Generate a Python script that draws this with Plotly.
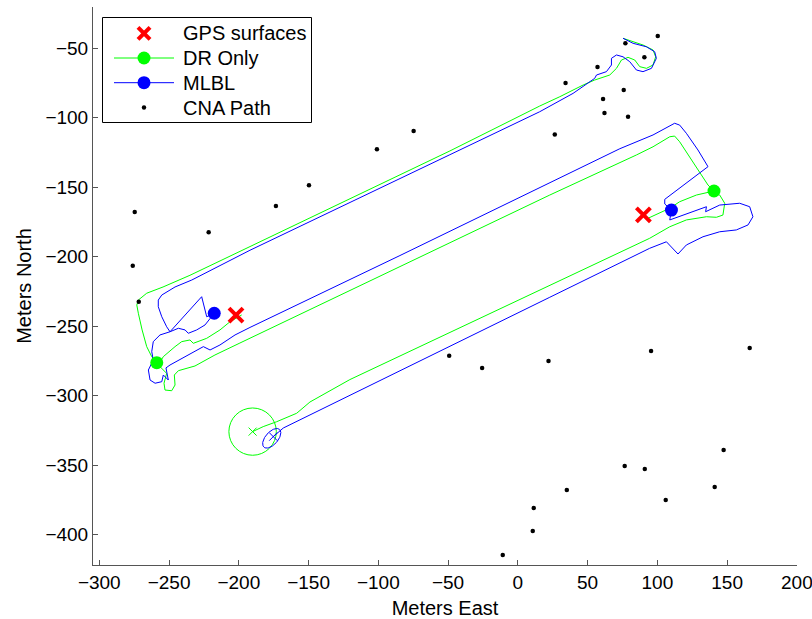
import numpy as np
import plotly.graph_objects as go

# ---------------- data (meters) ----------------
# DR Only (green) track, three dive segments
dr1_x = [75.4, 89.7, 96.9, 98.8, 96.9, 92.2, 87.4, 83.8, 79.0, 74.3, 70.7, 65.9, 55.1, 46.8, 30.1, 15.7,
         -48.7, -120.4, -192.0, -235.0, -254.3, -266.0, -272.0, -273.1, -272.0, -269.3, -266.0, -262.4, -258.8]
dr1_y = [-43.0, -47.8, -51.4, -56.3, -62.2, -64.6, -63.4, -58.6, -56.7, -58.6, -64.6, -69.4, -73.0, -76.6, -85.0, -91.7,
         -124.0, -158.3, -192.8, -213.4, -221.8, -226.3, -231.2, -234.8, -240.7, -252.7, -264.7, -271.9, -276.2]

dr2_x = [-197.9, -206.3, -213.5, -223.0, -232.6, -235.0, -240.9, -245.7, -254.1, -257.0, -256.5, -251.7, -253.6,
         -252.9, -248.1, -245.7, -246.2, -243.3, -231.4, -217.1, -199.2, -84.5, 22.9, 85.0, 96.9, 108.9, 112.4,
         116.0, 123.2, 130.4, 136.3, 140.6]
dr2_y = [-241.9, -246.8, -252.7, -258.7, -262.3, -259.9, -261.1, -264.7, -271.9, -276.7, -279.1, -283.9, -291.0,
         -295.9, -296.4, -292.3, -285.1, -282.0, -278.6, -270.7, -262.1, -207.2, -155.7, -126.9, -121.0, -113.8, -113.3,
         -117.4, -128.1, -138.9, -148.5, -152.8]

dr3_x = [93.3, 101.7, 108.9, 116.0, 128.0, 140.6, 144.7, 148.3, 147.0, 142.3, 135.2, 120.8, 108.9, 94.5,
         22.9, -48.7, -120.4, -149.0, -158.5, -172.9, -182.5, -190.1]
dr3_y = [-172.4, -168.6, -165.2, -160.5, -155.7, -152.8, -155.7, -161.6, -170.1, -171.7, -171.3, -173.6, -178.5, -186.8,
         -220.7, -254.5, -288.4, -304.5, -312.6, -318.7, -322.2, -325.8]

# MLBL (blue) track, three dive segments
ml1_x = [75.4, 82.6, 92.2, 98.1, 99.3, 95.8, 89.7, 85.0, 80.2, 75.4, 70.7, 67.1, 67.1, 63.5, 56.4, 55.1, 39.6, 15.7,
         -48.7, -120.4, -192.0, -233.7, -245.7, -255.2, -257.7, -257.7, -255.2, -251.7, -249.3, -226.6, -223.0, -217.6]
ml1_y = [-43.0, -46.6, -49.1, -52.7, -57.4, -64.6, -67.0, -65.8, -59.8, -56.3, -55.0, -57.4, -62.2, -67.0, -69.4, -71.8,
         -82.6, -95.8, -126.7, -161.1, -195.4, -216.8, -221.8, -227.6, -231.2, -236.0, -243.2, -250.4, -254.0, -228.8,
         -243.2, -240.7]

ml2_x = [-217.6, -220.6, -224.2, -230.2, -236.2, -238.5, -243.3, -249.3, -256.5, -261.3, -262.4, -261.3, -264.8,
         -263.6, -260.0, -255.2, -254.1, -250.5, -252.2, -249.3, -240.9, -232.6, -225.4, -220.6, -213.5, -202.7,
         -192.0, -84.5, 22.9, 73.1, 96.9, 112.4, 116.0, 120.8, 129.1, 136.3, 105.3, 105.3, 110.1]
ml2_y = [-240.7, -244.3, -249.1, -252.7, -255.1, -252.7, -251.5, -254.0, -256.3, -261.1, -268.3, -274.3, -281.5,
         -288.7, -291.0, -289.9, -285.1, -288.7, -280.0, -277.9, -273.1, -268.3, -264.7, -267.1, -263.5, -256.3,
         -250.9, -199.2, -146.6, -122.4, -112.5, -104.1, -105.4, -111.3, -123.3, -135.3, -158.8, -162.1, -166.5]

ml3_x = [110.1, 108.9, 135.2, 134.6, 144.7, 159.0, 166.2, 168.5, 165.0, 156.6, 144.7, 132.7, 120.8, 114.8, 106.5,
         94.5, 22.9, -48.7, -120.4, -156.2, -168.1, -175.3]
ml3_y = [-166.5, -173.6, -164.1, -167.7, -162.9, -161.6, -164.1, -171.3, -177.2, -180.8, -182.1, -185.7, -191.6,
         -198.1, -189.3, -194.0, -229.2, -264.5, -299.7, -317.3, -323.2, -329.4]

# surfacing positions
gps_x = [-202.0, 90.0]
gps_y = [-242.0, -170.0]
dr_pts_x = [-258.8, 140.6]
dr_pts_y = [-276.2, -152.8]
ml_pts_x = [-217.6, 110.1]
ml_pts_y = [-240.7, -166.5]

# final position estimates and their uncertainty
dr_end = (-190.1, -325.8)
dr_end_radius = 17.0
ml_end = (-175.3, -329.4)
ml_ellipse = dict(cx=-176.4, cy=-330.6, a=8.5, b=4.5, angle_deg=49.0)

# CNA (surface vehicle) path fixes
cna_x = [100.3, 77.1, 90.7, 57.1, 34.2, 75.9, 61.1, 62.1, 79.0, 26.5, -74.7, -101.0, -149.7, -173.4, -274.6,
         -221.6, -276.0, -271.7, -49.2, -25.6, 22.0, 95.5, 166.2, 147.5, 76.6, 91.0, 141.1, 35.1, 11.4, 106.0,
         10.7, -10.8]
cna_y = [-41.4, -46.6, -56.7, -63.7, -75.2, -80.2, -86.7, -96.7, -99.4, -112.2, -109.7, -122.8, -148.7, -163.6,
         -167.9, -182.5, -206.5, -232.4, -271.2, -280.1, -275.0, -267.8, -265.7, -339.0, -350.5, -352.7, -365.6,
         -367.8, -380.7, -374.9, -397.2, -414.5]

x_ticks = [-300, -250, -200, -150, -100, -50, 0, 50, 100, 150, 200]
y_ticks = [-400, -350, -300, -250, -200, -150, -100, -50]

legend_names = ["GPS surfaces", "DR Only", "MLBL", "CNA Path"]

GREEN = "#00FF00"
BLUE = "#0000FF"
RED = "#FF0000"
FONT = "Liberation Sans, Arial, Helvetica, sans-serif"

# plot-area geometry in pixels (for the hand-built, MATLAB-style legend)
W, H = 812, 619
L, R, T, B = 93, 15, 7, 54
PW, PH = W - L - R, H - T - B


def px(xp):
    return (xp - L) / PW


def py(yp):
    return 1 - (yp - T) / PH


def join(*segs):
    xs, ys = [], []
    for sx, sy in segs:
        if xs:
            xs.append(None)
            ys.append(None)
        xs += list(sx)
        ys += list(sy)
    return xs, ys


fig = go.Figure()

gx, gy = join((dr1_x, dr1_y), (dr2_x, dr2_y), (dr3_x, dr3_y))
bx, by = join((ml1_x, ml1_y), (ml2_x, ml2_y), (ml3_x, ml3_y))

fig.add_trace(go.Scatter(x=gx, y=gy, mode="lines", line=dict(color=GREEN, width=1),
                         name="DR Only", showlegend=False, hoverinfo="skip"))
fig.add_trace(go.Scatter(x=bx, y=by, mode="lines", line=dict(color=BLUE, width=1),
                         name="MLBL", showlegend=False, hoverinfo="skip"))

# uncertainty circle / ellipse at the final estimates
t = np.linspace(0, 2 * np.pi, 121)
th = np.deg2rad(ml_ellipse["angle_deg"])
ex = ml_ellipse["cx"] + ml_ellipse["a"] * np.cos(t) * np.cos(th) - ml_ellipse["b"] * np.sin(t) * np.sin(th)
ey = ml_ellipse["cy"] + ml_ellipse["a"] * np.cos(t) * np.sin(th) + ml_ellipse["b"] * np.sin(t) * np.cos(th)
fig.add_trace(go.Scatter(x=ex, y=ey, mode="lines", line=dict(color=BLUE, width=1),
                         showlegend=False, hoverinfo="skip"))
fig.add_shape(type="circle", xref="x", yref="y",
              x0=dr_end[0] - dr_end_radius, x1=dr_end[0] + dr_end_radius,
              y0=dr_end[1] - dr_end_radius, y1=dr_end[1] + dr_end_radius,
              line=dict(color=GREEN, width=1), layer="below")
fig.add_trace(go.Scatter(x=[dr_end[0]], y=[dr_end[1]], mode="markers",
                         marker=dict(symbol="x-thin", size=8, line=dict(color=GREEN, width=1)),
                         showlegend=False, hoverinfo="skip"))
fig.add_trace(go.Scatter(x=[ml_end[0]], y=[ml_end[1]], mode="markers",
                         marker=dict(symbol="x-thin", size=8, line=dict(color=BLUE, width=1)),
                         showlegend=False, hoverinfo="skip"))

# CNA path
fig.add_trace(go.Scatter(x=cna_x, y=cna_y, mode="markers", name="CNA Path",
                         marker=dict(color="black", size=4.5), showlegend=False))

# surfacing markers
fig.add_trace(go.Scatter(x=dr_pts_x, y=dr_pts_y, mode="markers", showlegend=False, name="DR Only",
                         marker=dict(color=GREEN, size=13)))
fig.add_trace(go.Scatter(x=ml_pts_x, y=ml_pts_y, mode="markers", showlegend=False, name="MLBL",
                         marker=dict(color=BLUE, size=13)))
fig.add_trace(go.Scatter(x=gps_x, y=gps_y, mode="markers", showlegend=False, name="GPS surfaces",
                         marker=dict(symbol="x-thin", size=14, line=dict(color=RED, width=4))))

# ---------------- MATLAB-style legend box ----------------
shapes = []
box = dict(x0=102.5, x1=311.5, y0=17.5, y1=122.5)
shapes.append(dict(type="rect", xref="paper", yref="paper", x0=px(box["x0"]), x1=px(box["x1"]),
                   y0=py(box["y1"]), y1=py(box["y0"]), line=dict(color="black", width=1),
                   fillcolor="white", layer="above"))
rows = [33.3, 58.0, 82.7, 107.5]
mx = 144.0
# red X
for s in (1, -1):
    shapes.append(dict(type="line", xref="paper", yref="paper", x0=px(mx - 6), x1=px(mx + 6),
                       y0=py(rows[0] - 6 * s), y1=py(rows[0] + 6 * s),
                       line=dict(color=RED, width=4), layer="above"))
# line + dot entries
for r, c in ((rows[1], GREEN), (rows[2], BLUE)):
    shapes.append(dict(type="line", xref="paper", yref="paper", x0=px(114), x1=px(174),
                       y0=py(r), y1=py(r), line=dict(color=c, width=1), layer="above"))
    shapes.append(dict(type="circle", xref="paper", yref="paper", x0=px(mx - 6.5), x1=px(mx + 6.5),
                       y0=py(r + 6.5), y1=py(r - 6.5), line=dict(color=c, width=0), fillcolor=c,
                       layer="above"))
shapes.append(dict(type="circle", xref="paper", yref="paper", x0=px(mx - 2.2), x1=px(mx + 2.2),
                   y0=py(rows[3] + 2.2), y1=py(rows[3] - 2.2), line=dict(color="black", width=0),
                   fillcolor="black", layer="above"))
for shp in shapes:
    fig.add_shape(**shp)

for r, name in zip(rows, legend_names):
    fig.add_annotation(x=px(180.5), y=py(r), xref="paper", yref="paper", text=name, showarrow=False,
                       xanchor="left", yanchor="middle", font=dict(size=20, family=FONT, color="black"))

AX = "#555555"
common = dict(showgrid=False, zeroline=False, showline=True, linecolor=AX, linewidth=1,
              ticks="inside", ticklen=5, tickcolor=AX, tickwidth=1, mirror=False, automargin=False,
              ticklabeloverflow="allow", tickfont=dict(size=19, color="black", family=FONT))

fig.update_xaxes(range=[-304.5, 200.1], tickvals=x_ticks,
                 title=dict(text="Meters East", font=dict(size=20, family=FONT), standoff=11), **common)
fig.update_yaxes(range=[-421.7, -20.5], tickvals=y_ticks,
                 title=dict(text="Meters North", font=dict(size=20, family=FONT), standoff=8), **common)

fig.update_layout(
    width=W, height=H,
    margin=dict(l=L, r=R, t=T, b=B),
    plot_bgcolor="white", paper_bgcolor="white",
    font=dict(family=FONT, size=20, color="black"),
    showlegend=False,
)

fig.write_html("out.html", config={"displayModeBar": False, "responsive": False})

# the page's default 8px body margin would shift the figure; remove it
with open("out.html", "r", encoding="utf-8") as f:
    html = f.read()
html = html.replace("<head>", "<head><style>html,body{margin:0;padding:0;overflow:hidden;}</style>", 1)
with open("out.html", "w", encoding="utf-8") as f:
    f.write(html)
